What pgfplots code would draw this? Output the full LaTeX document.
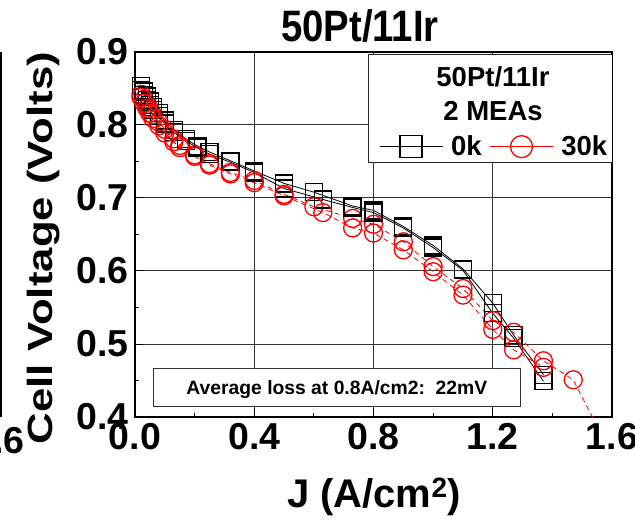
\documentclass[border=0pt]{standalone}
\usepackage{pgfplots}
\pgfplotsset{compat=1.18}
\usepackage{fontspec}
\setmainfont{Liberation Sans}
\usepackage{graphicx}
\begin{document}
\begin{tikzpicture}
\useasboundingbox (0pt,0pt) rectangle (635pt,520pt);
\begin{axis}[
  at={(135pt,103pt)}, anchor=south west,
  scale only axis, width=477pt, height=365pt,
  xmin=0, xmax=1.6, ymin=0.4, ymax=0.9,
  xtick={0,0.4,0.8,1.2,1.6}, ytick={0.4,0.5,0.6,0.7,0.8,0.9},
  minor x tick num=1, minor y tick num=1,
  tick pos=left, tick align=inside,
  major tick length=8pt, minor tick length=4pt,
  tick style={black, line width=1pt},
  grid=major, major grid style={black!80, line width=1pt},
  axis line style={line width=1.8pt},
  xticklabel style={/pgf/number format/.cd, fixed, fixed zerofill, precision=1, assume math mode=true, /tikz/.cd, yshift=-3pt},
  yticklabel style={/pgf/number format/.cd, fixed, fixed zerofill, precision=1, assume math mode=true, /tikz/.cd, xshift=-3pt},
  tick label style={font=\fontsize{37.5}{37.5}\selectfont\bfseries},
  legend columns=2,
  legend style={at={(axis cs:0.8185,0.7703)}, anchor=west, draw=none, fill=none,
    inner sep=0pt, column sep=8pt,
    font=\fontsize{27.5}{27.5}\selectfont\bfseries,
    nodes={inner sep=0pt}},
  legend image code/.code={\draw[#1, solid, mark size=11pt, mark repeat=2, mark phase=2] plot coordinates {(0pt,0pt) (31.5pt,0pt) (63pt,0pt)};},
]
% 0k, MEA 1
\addplot[black, line width=0.8pt, mark=square, mark size=8.5pt, mark options={line width=1.3pt}] coordinates {
(0.02,0.853)(0.03,0.846)(0.04,0.839)(0.05,0.832)(0.06,0.825)(0.08,0.816)(0.10,0.806)(0.13,0.793)(0.17,0.781)(0.21,0.771)(0.25,0.763)(0.32,0.751)(0.40,0.737)(0.50,0.720)(0.60,0.708)(0.73,0.689)(0.80,0.683)(0.90,0.661)(1.00,0.635)(1.10,0.603)(1.20,0.556)(1.27,0.512)(1.37,0.458)};
\addlegendentry{0k}
% 30k, MEA 1
\addplot[red, line width=0.8pt, dash pattern=on 5pt off 4pt, mark=o, mark size=9pt, mark options={solid, line width=1.3pt}] coordinates {
(0.02,0.842)(0.03,0.835)(0.04,0.828)(0.05,0.821)(0.06,0.814)(0.08,0.804)(0.10,0.794)(0.13,0.781)(0.15,0.772)(0.20,0.759)(0.25,0.747)(0.32,0.735)(0.40,0.724)(0.50,0.705)(0.60,0.688)(0.73,0.672)(0.80,0.664)(0.90,0.640)(1.00,0.606)(1.10,0.576)(1.20,0.532)(1.27,0.516)(1.37,0.477)(1.47,0.451)(1.57,0.371)};
\addlegendentry{30k}
% 0k, MEA 2
\addplot[black, line width=0.8pt, mark=square, mark size=8.5pt, mark options={line width=1.3pt}, forget plot] coordinates {
(0.02,0.848)(0.03,0.841)(0.04,0.834)(0.05,0.827)(0.06,0.821)(0.08,0.812)(0.10,0.802)(0.13,0.790)(0.17,0.778)(0.21,0.769)(0.25,0.760)(0.32,0.749)(0.40,0.735)(0.50,0.713)(0.63,0.698)(0.73,0.687)(0.80,0.680)(0.90,0.659)(1.00,0.632)(1.10,0.601)(1.20,0.542)(1.27,0.508)(1.37,0.449)};
% 30k, MEA 2
\addplot[red, line width=0.8pt, dash pattern=on 5pt off 4pt, mark=o, mark size=9pt, mark options={solid, line width=1.3pt}, forget plot] coordinates {
(0.02,0.838)(0.03,0.830)(0.04,0.823)(0.05,0.816)(0.06,0.809)(0.08,0.799)(0.10,0.789)(0.13,0.777)(0.15,0.769)(0.20,0.757)(0.25,0.745)(0.32,0.733)(0.40,0.721)(0.50,0.703)(0.63,0.680)(0.73,0.659)(0.80,0.652)(0.90,0.629)(1.00,0.599)(1.10,0.567)(1.20,0.520)(1.27,0.492)(1.37,0.468)};
% legend frame and header
\draw[draw=black!85, fill=white, line width=1pt] (axis cs:0.7816,0.8959) rectangle (axis cs:1.6,0.7493);
\node[anchor=base, font=\fontsize{27.5}{27.5}\selectfont\bfseries] at (axis cs:1.2009,0.8534) {50Pt/11Ir};
\node[anchor=base, font=\fontsize{27.5}{27.5}\selectfont\bfseries] at (axis cs:1.2009,0.8059) {2 MEAs};
% annotation
\draw[draw=black!80, fill=white, line width=1pt] (axis cs:0.0614,0.4667) rectangle (axis cs:1.2915,0.4141);
\node[anchor=base, font=\fontsize{19.3}{19.3}\selectfont\bfseries] at (axis cs:0.677,0.4311) {Average loss at 0.8A/cm2:\ \ 22mV};
\end{axis}
% title
\node[anchor=base] at (360pt,478.3pt) {\fontsize{44}{44}\selectfont\bfseries\scalebox{0.87}[1]{50Pt/11Ir}};
% x label
\node[anchor=base] at (374pt,13pt) {\fontsize{40}{40}\selectfont\bfseries J (A/cm\textsuperscript{2})};
% y label
\node[rotate=90, anchor=base] at (53pt,272pt) {\fontsize{35}{35}\selectfont\bfseries\scalebox{1.25}[1]{Cell Voltage (Volts)}};
% fragment of the neighbouring panel at the left edge
\draw[line width=1.8pt] (1pt,103pt) -- (1pt,468pt);
\node[anchor=east, inner sep=0pt] at (25pt,79pt) {\fontsize{37.5}{37.5}\selectfont\bfseries 1.6};
\end{tikzpicture}
\end{document}
